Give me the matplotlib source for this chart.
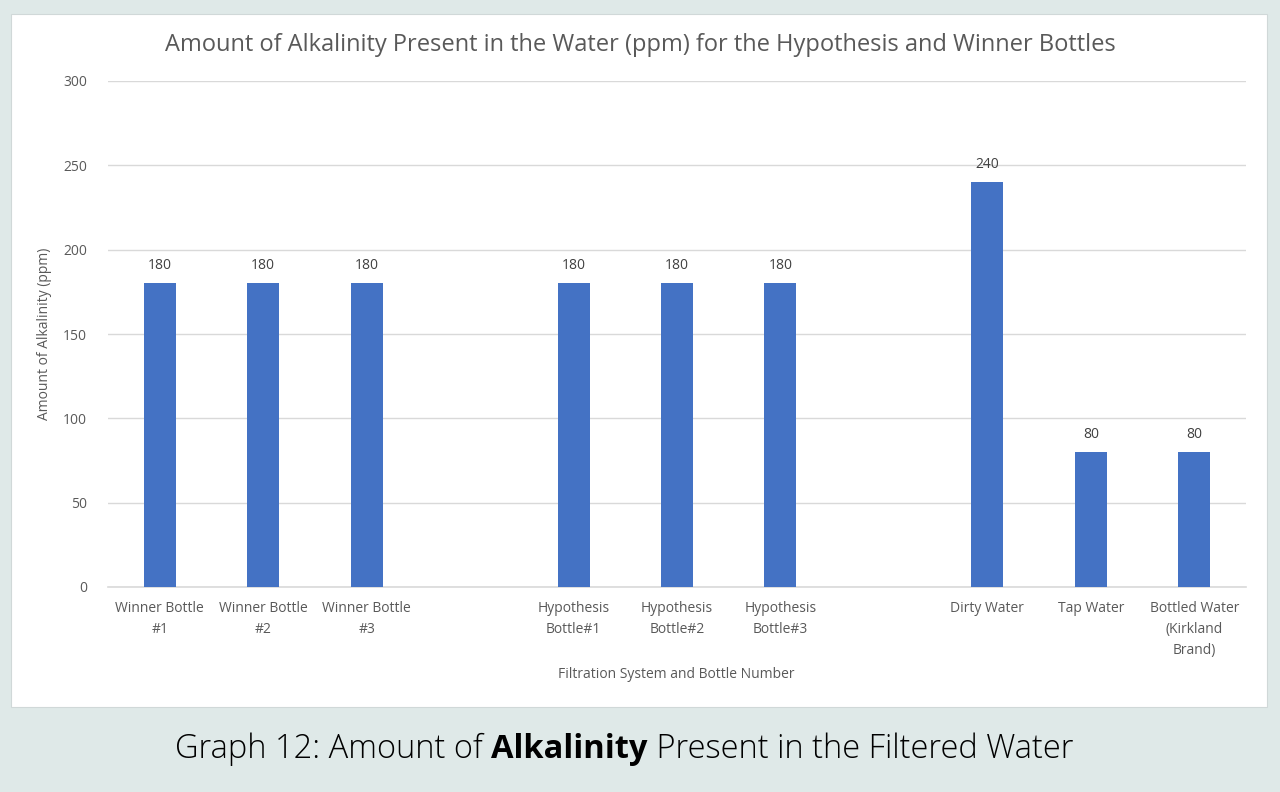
import matplotlib.pyplot as plt
from matplotlib.patches import Rectangle
import numpy as np

title = "Amount of Alkalinity Present in the Water (ppm) for the Hypothesis and Winner Bottles"

labels = ["Winner Bottle\n#1", "Winner Bottle\n#2", "Winner Bottle\n#3", "",
          "Hypothesis\nBottle#1", "Hypothesis\nBottle#2", "Hypothesis\nBottle#3", "",
          "Dirty Water", "Tap Water", "Bottled Water\n(Kirkland\nBrand)"]
values = [180, 180, 180, None, 180, 180, 180, None, 240, 80, 80]

bg = "#dfe9e8"
blue = "#4472c4"
grey = "#595959"

plt.rcParams['font.family'] = ['Open Sans', 'DejaVu Sans']

fig = plt.figure(figsize=(12.8, 7.92), dpi=100, facecolor=bg)

# white chart panel
fig.patches.append(Rectangle((11/1280, 1 - 707/792), 1256/1280, 693/792,
                             transform=fig.transFigure, facecolor="white",
                             edgecolor="#d0d8d8", linewidth=0.8, zorder=-5))

ax = fig.add_axes([108/1280, 1 - 587/792, 1138/1280, 506/792])
ax.set_facecolor("none")
ax.set_zorder(2)

xs = np.arange(len(labels))
w = 0.31
for x, v in zip(xs, values):
    if v is None:
        continue
    ax.bar(x, v, width=w, color=blue, zorder=3)
    ax.text(x, v + 6, str(v), ha="center", va="bottom", fontsize=10, color="#404040")

ax.set_xlim(-0.5, len(labels) - 0.5)
ax.set_ylim(0, 300)
ax.set_yticks(range(0, 301, 50))
ax.set_xticks(xs)
ax.set_xticklabels(labels, fontsize=10, color=grey, linespacing=1.55)
ax.tick_params(axis="both", length=0, colors=grey, labelsize=10)
ax.tick_params(axis="y", pad=15)
ax.tick_params(axis="x", pad=10)
ax.grid(axis="y", color="#d9d9d9", linewidth=1, zorder=0)
for s in ["top", "right", "left"]:
    ax.spines[s].set_visible(False)
ax.spines["bottom"].set_color("#d9d9d9")
ax.spines["bottom"].set_linewidth(1.2)

ax.set_ylabel("Amount of Alkalinity (ppm)", fontsize=10, color=grey, labelpad=8)
fig.text(676/1280, 1 - 675/792, "Filtration System and Bottle Number",
         fontsize=10, color=grey, ha="center", va="center")
fig.text(640/1280, 1 - 45/792, title, fontsize=17, color=grey,
         ha="center", va="center")

# caption below the panel, with the bold word
cap_y = 1 - 758/792
t1 = fig.text(175/1280, cap_y, "Graph 12: Amount of ", fontsize=23.5,
              color="black", ha="left", va="baseline", fontweight="light")
t2 = fig.text(0, 0, "Alkalinity", fontsize=23.5, color="black",
              fontweight="bold", ha="left", va="baseline")
t3 = fig.text(0, 0, " Present in the Filtered Water", fontsize=23.5,
              color="black", ha="left", va="baseline", fontweight="light")
fig.canvas.draw()
r = fig.canvas.get_renderer()
bb1 = t1.get_window_extent(r)
t2.set_position((bb1.x1 / fig.bbox.width, cap_y))
bb2 = t2.get_window_extent(r)
t3.set_position((bb2.x1 / fig.bbox.width, cap_y))

plt.savefig("out.png", dpi=100, facecolor=bg)
